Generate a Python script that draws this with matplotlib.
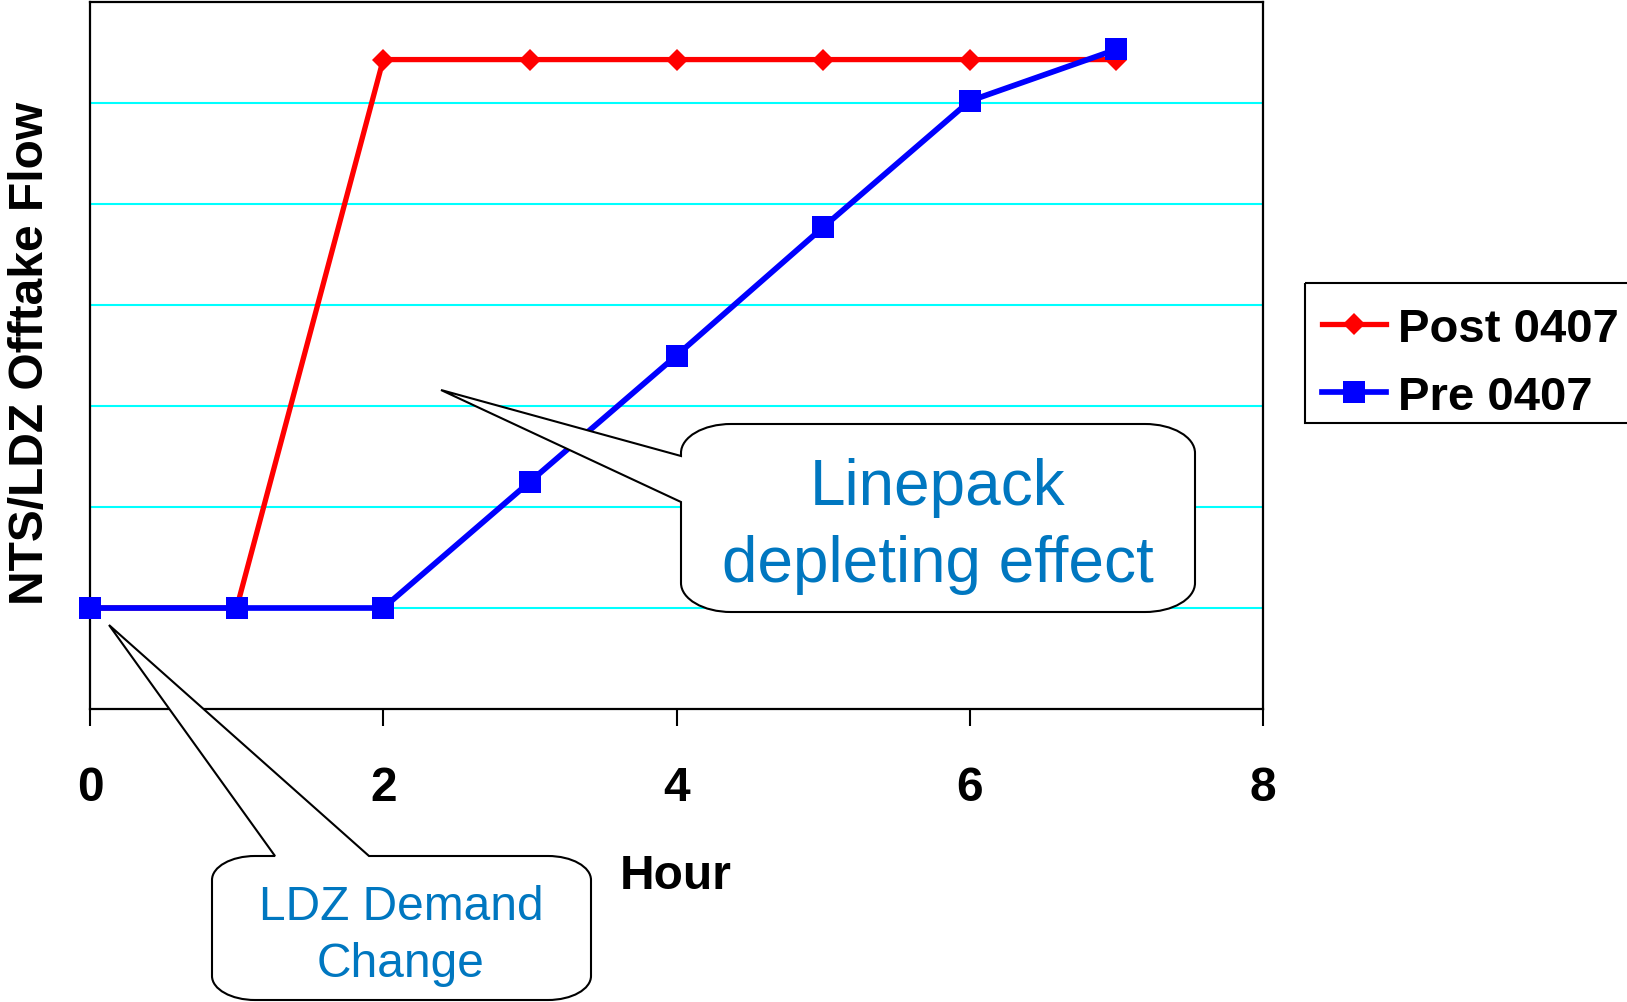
import matplotlib
matplotlib.use("Agg")
import matplotlib.pyplot as plt
from matplotlib.path import Path
from matplotlib.patches import PathPatch, Rectangle
from matplotlib.transforms import Affine2D

# ---- data ----
hours = [0, 1, 2, 3, 4, 5, 6, 7]
post_0407 = [1.0, 1.0, 6.43, 6.43, 6.43, 6.43, 6.43, 6.43]
pre_0407 = [1.0, 1.0, 1.0, 2.25, 3.5, 4.77, 6.02, 6.53]
x_ticks = [0, 2, 4, 6, 8]
x_tick_labels = ["0", "2", "4", "6", "8"]
grid_levels = [1, 2, 3, 4, 5, 6]
series_names = ["Post 0407", "Pre 0407"]

plt.rcParams['font.family'] = ['Liberation Sans', 'DejaVu Sans']

W, H = 1627, 1003
fig = plt.figure(figsize=(W / 100, H / 100), dpi=100)
fig.patch.set_facecolor('white')
pix = Affine2D().scale(1.0 / W, -1.0 / H).translate(0, 1) + fig.transFigure

ax = fig.add_axes([90 / W, 1 - 710 / H, (1263 - 90) / W, (710 - 3) / H])
ax.set_xlim(0, 8)
ax.set_ylim(0, 7)

ax.plot(hours, post_0407, color='#FF0000', lw=3.8, marker='D', ms=11.5,
        markeredgewidth=0, label=series_names[0], zorder=3, clip_on=False)
ax.plot(hours, pre_0407, color='#0000FF', lw=4.1, marker='s', ms=16.5,
        markeredgewidth=0, label=series_names[1], zorder=4, clip_on=False)

ax.set_yticks(grid_levels)
ax.set_yticklabels([])
ax.tick_params(axis='y', length=0)
ax.yaxis.grid(True, color='#00FFFF', lw=1.5)
ax.set_axisbelow(True)

ax.set_xticks(x_ticks)
ax.set_xticklabels(x_tick_labels, fontsize=34.5, fontweight='bold')
ax.tick_params(axis='x', direction='out', length=12, width=1.5, color='black', pad=53.5)
for lab in ax.get_xticklabels():
    lab.set_va('baseline')

for s in ax.spines.values():
    s.set_linewidth(1.6)
    s.set_color('black')

ax.set_xlabel('Hour', fontsize=34.5, fontweight='bold')
ax.xaxis.set_label_coords(676, 889, transform=pix)
ax.xaxis.label.set_va('baseline')

fig.text(43.5, 353, 'NTS/LDZ Offtake Flow', transform=pix, rotation=90,
         rotation_mode='anchor', ha='center', va='baseline',
         fontsize=34.5, fontweight='bold')

# legend frame drawn separately (outline only), legend entries without frame
fig.add_artist(Rectangle((1305, 284), 400, 140, transform=pix, facecolor='none',
                         edgecolor='black', lw=1.5, zorder=1))
leg = ax.legend(loc='upper left', bbox_to_anchor=(1305, 291.5), bbox_transform=pix,
                borderaxespad=0, prop={'weight': 'bold', 'size': 34},
                frameon=False, handlelength=1.37, handletextpad=0.25,
                labelspacing=0.5, borderpad=0.35)


def callout(l, t, r, b, rx, ry, side, e1, e2, tip):
    k = 0.5523
    verts, codes = [], []

    def move(p):
        verts.append(p); codes.append(Path.MOVETO)

    def line(p):
        verts.append(p); codes.append(Path.LINETO)

    def corner(a, c, bb):
        c1 = (a[0] + k * (c[0] - a[0]), a[1] + k * (c[1] - a[1]))
        c2 = (bb[0] + k * (c[0] - bb[0]), bb[1] + k * (c[1] - bb[1]))
        verts.extend([c1, c2, bb]); codes.extend([Path.CURVE4] * 3)

    move((l + rx, t))
    if side == 'top':
        line((e1, t)); line(tip); line((e2, t))
    line((r - rx, t))
    corner((r - rx, t), (r, t), (r, t + ry))
    line((r, b - ry))
    corner((r, b - ry), (r, b), (r - rx, b))
    line((l + rx, b))
    corner((l + rx, b), (l, b), (l, b - ry))
    if side == 'left':
        line((l, e1)); line(tip); line((l, e2))
    line((l, t + ry))
    corner((l, t + ry), (l, t), (l + rx, t))
    verts.append((l + rx, t)); codes.append(Path.CLOSEPOLY)
    return Path(verts, codes)


txt_color = '#0077C0'

p1 = callout(681, 425, 1195, 613, 50, 29, 'left', 503, 457, (441, 391))
fig.add_artist(PathPatch(p1, transform=pix, facecolor='white', edgecolor='black',
                         lw=1.5, zorder=5))
fig.text(938, 505, 'Linepack', transform=pix, ha='center', va='baseline',
         fontsize=46, color=txt_color, zorder=6)
fig.text(938, 582, 'depleting effect', transform=pix, ha='center', va='baseline',
         fontsize=46, color=txt_color, zorder=6)

p2 = callout(212, 857, 591, 1001, 43, 24, 'top', 275, 369, (109, 626))
fig.add_artist(PathPatch(p2, transform=pix, facecolor='white', edgecolor='black',
                         lw=1.5, zorder=5))
fig.text(401, 920, 'LDZ Demand', transform=pix, ha='center', va='baseline',
         fontsize=34.5, color=txt_color, zorder=6)
fig.text(401, 977, 'Change', transform=pix, ha='center', va='baseline',
         fontsize=34.5, color=txt_color, zorder=6)

fig.savefig('out.png', dpi=100, facecolor='white')
